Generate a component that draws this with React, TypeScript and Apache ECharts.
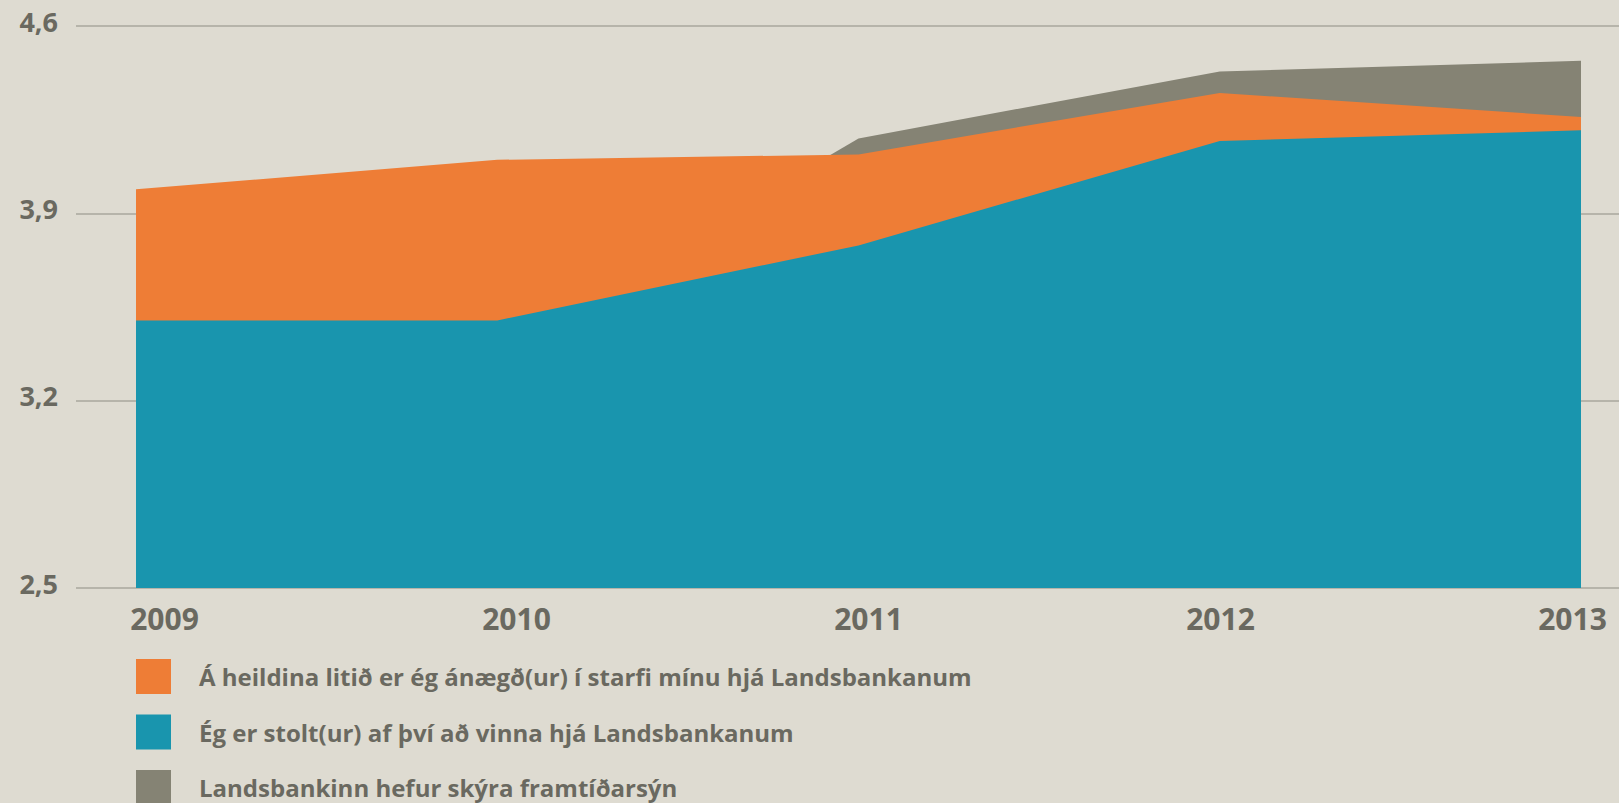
import React, { useEffect, useRef } from "react";
import * as echarts from "echarts";

const years = ["2009", "2010", "2011", "2012", "2013"];
const yTickLabels = ["2,5", "3,2", "3,9", "4,6"];
const nameOrange = "Á heildina litið er ég ánægð(ur) í starfi mínu hjá Landsbankanum";
const nameTeal = "Ég er stolt(ur) af því að vinna hjá Landsbankanum";
const nameGrey = "Landsbankinn hefur skýra framtíðarsýn";
const orangeValues = [3.99, 4.1, 4.12, 4.35, 4.26];
const tealValues = [3.5, 3.5, 3.78, 4.17, 4.21];
const greyValues = [null, 3.39, 4.18, 4.43, 4.47];

const TEXT = "#6a6960";
const FONT = "'Open Sans', sans-serif";

export default function App() {
  const ref = useRef<HTMLDivElement>(null);
  useEffect(() => {
    if (!ref.current) return;
    const chart = echarts.init(ref.current, undefined, { renderer: "svg" });
    const top = 26;
    const height = 562;
    const areaSeries = (name: string, data: any[], color: string, z: number) => ({
      name,
      type: "line",
      xAxisIndex: 1,
      yAxisIndex: 1,
      data,
      showSymbol: false,
      symbol: "none",
      lineStyle: { width: 0, color },
      itemStyle: { color },
      areaStyle: { color, opacity: 1, origin: "start" },
      z,
    });
    chart.setOption({
      animation: false,
      backgroundColor: "#dedbd1",
      grid: [
        { left: 76, right: 0, top, height },
        { left: 136, right: 38, top, height },
        { left: 164.5, right: 46.5, top, height },
      ],
      xAxis: [
        { gridIndex: 0, type: "category", show: false, data: years },
        { gridIndex: 1, type: "category", boundaryGap: false, show: false, data: years },
        {
          gridIndex: 2,
          type: "category",
          boundaryGap: false,
          data: years,
          axisLine: { show: false },
          axisTick: { show: false },
          splitLine: { show: false },
          axisLabel: {
            color: TEXT,
            fontSize: 30,
            fontWeight: "bold",
            fontFamily: FONT,
            margin: 15,
          },
        },
      ],
      yAxis: [
        {
          gridIndex: 0,
          type: "category",
          boundaryGap: false,
          data: yTickLabels,
          axisLine: { show: false },
          axisTick: { show: false },
          splitLine: { show: true, interval: 0, lineStyle: { color: "#a9a79d", width: 1.5 } },
          axisLabel: {
            color: TEXT,
            fontSize: 27,
            fontWeight: "bold",
            fontFamily: FONT,
            margin: 18,
            interval: 0,
            verticalAlign: "bottom",
            lineHeight: 10,
          },
          z: 0,
        },
        { gridIndex: 1, type: "value", min: 2.5, max: 4.6, show: false, splitLine: { show: false } },
        { gridIndex: 2, type: "value", min: 2.5, max: 4.6, show: false, splitLine: { show: false } },
      ],
      legend: {
        orient: "vertical",
        left: 136,
        top: 659,
        height: 300,
        padding: 0,
        itemWidth: 35,
        itemHeight: 35,
        itemGap: 20.5,
        icon: "rect",
        selectedMode: false,
        data: [nameOrange, nameTeal, nameGrey],
        textStyle: {
          color: TEXT,
          fontSize: 24,
          fontWeight: "bold",
          fontFamily: FONT,
          padding: [0, 0, 0, 23],
        },
      },
      series: [
        areaSeries(nameGrey, greyValues, "#858374", 2),
        areaSeries(nameOrange, orangeValues, "#ee7d36", 3),
        areaSeries(nameTeal, tealValues, "#1995ae", 4),
      ],
    });
    return () => chart.dispose();
  }, []);
  return (
    <div
      ref={ref}
      style={{ position: "fixed", left: 0, top: 0, width: 1619, height: 803 }}
    />
  );
}
